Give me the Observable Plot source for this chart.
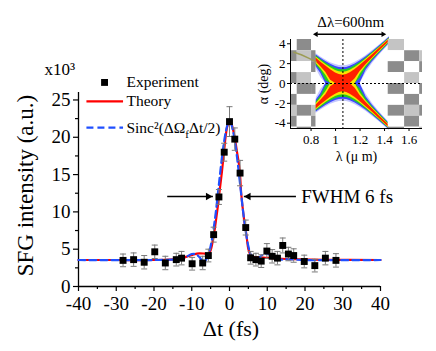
<!DOCTYPE html>
<html><head><meta charset="utf-8">
<script src="https://cdn.jsdelivr.net/npm/d3@7"></script>
<script src="https://cdn.jsdelivr.net/npm/@observablehq/plot@0.6"></script>
<style>
body{margin:0;background:#fff;}
#wrap{position:relative;width:436px;height:351px;overflow:hidden;background:#fff;}
#main,#inset{position:absolute;top:0;}
#main{left:0;}
#inset{left:250px;}
svg{overflow:visible;}
svg text{font-family:'Liberation Serif','Times New Roman',serif !important;}
</style></head><body><div id="wrap"><div id="main"></div><div id="inset"></div></div>
<script>
// ---------- main chart data ----------
const expT   = [-28.2,-25.4,-22.6,-19.8,-17.0,-14.1,-12.7,-9.9,-7.1,-5.6,-4.2,-2.8,-1.4,0,1.4,2.8,4.3,5.6,7.0,8.4,9.9,11.3,12.7,14.1,15.6,17.0,19.8,22.6,25.4,28.2];
const expV   = [3.5,3.6,3.25,4.65,3.15,3.6,3.8,3.05,3.15,4.15,6.95,12.0,18.0,22.1,19.75,15.2,7.9,3.85,3.6,3.4,4.75,4.05,3.8,5.5,4.35,4.15,3.35,2.8,3.8,3.5];
const expErr = [0.85,0.9,0.9,0.9,0.9,0.85,0.9,0.85,0.9,0.85,1.0,1.0,1.2,2.0,1.5,1.7,1.0,0.85,0.85,0.85,1.0,0.9,0.9,1.0,0.9,0.9,0.85,0.85,0.9,0.9];

const theoryT = [-40,-30,-20,-16,-13,-11,-9.5,-8,-6.5,-5.6,-5.2,-4.8,-4.4,-4.0,-3.6,-3.2,-2.8,-2.5,-2.0,-1.4,-1.0,-0.5,0,0.5,1.0,1.5,2.0,2.5,2.8,3.1,3.5,4.0,4.3,4.7,5.0,5.5,6.0,7.0,10,14,18,25,40];
const theoryV = [3.55,3.55,3.55,3.6,3.75,4.05,4.3,4.45,4.4,4.35,4.6,5.2,6.2,7.4,8.8,10.3,12.0,13.3,15.4,18.3,20.2,21.6,22.0,21.8,20.9,19.6,18.0,16.4,14.9,12.5,10.5,8.5,7.6,6.0,5.0,4.3,4.0,3.95,3.85,3.72,3.65,3.58,3.55];

const sincT = [-40,-20,-15,-13,-12,-11,-10,-9,-8,-7,-6.5,-6,-5.5,-5,-4.5,-4,-3.5,-3,-2.5,-2,-1.5,-1,-0.5,0,0.5,1,1.5,2,2.5,3,3.5,4,4.5,5,5.5,6,6.5,7,8,9,10,11,12,13,15,20,40];
const sincV = [3.55,3.55,3.6,3.6,3.8,4.1,4.35,4.35,3.95,3.35,3.4,3.75,4.4,5.4,6.75,8.5,10.5,12.8,15.1,17.3,19.2,20.7,21.7,22.1,21.7,20.7,19.2,17.3,15.1,12.8,10.5,8.5,6.75,5.4,4.4,3.8,3.55,3.55,3.95,4.3,4.4,4.15,3.8,3.6,3.65,3.55,3.55];

const xTicks = [-40,-30,-20,-10,0,10,20,30,40];
const xMinorTicks = [-35,-25,-15,-5,5,15,25,35];
const yTicks = [0,5,10,15,20,25];
const yMinorTicks = [2.5,7.5,12.5,17.5,22.5];

const legendLabels = ["Experiment","Theory","Sinc²(ΔΩfΔt/2)"];
const yUnitLabel = "x10³";
const yTitle = "SFG intensity (a.u.)";
const xTitle = "Δt (fs)";
const fwhmLabel = "FWHM 6 fs";

// ---------- inset data (edges of colour bands, deg) ----------
const insetLam    = [0.84,0.88,0.92,0.96,1.00,1.03,1.06,1.09,1.12,1.16,1.20,1.25,1.30,1.35,1.40,1.44];
const haloOuter   = [3.01,2.67,2.36,2.10,1.91,1.82,1.79,1.82,1.92,2.13,2.41,2.82,3.29,3.78,4.30,4.72];
const haloInner   = [1.50,0.57,0,0,0,0,0,0,0,0,0,1.08,2.00,2.74,3.42,3.94];
const blueOuter   = [2.89,2.53,2.21,1.93,1.71,1.62,1.58,1.62,1.73,1.96,2.26,2.70,3.18,3.69,4.22,4.65];
const blueInner   = [1.72,1.01,0,0,0,0,0,0,0,0,0,1.37,2.17,2.87,3.52,4.03];
const greenOuter  = [2.79,2.41,2.07,1.76,1.53,1.42,1.38,1.42,1.54,1.80,2.12,2.58,3.09,3.61,4.15,4.58];
const greenInner  = [1.89,1.27,0.27,0,0,0,0,0,0,0,0.54,1.57,2.31,2.97,3.60,4.10];
const yellowOuter = [2.68,2.29,1.92,1.58,1.32,1.19,1.14,1.19,1.33,1.62,1.97,2.47,2.99,3.52,4.07,4.52];
const yellowInner = [2.04,1.49,0.82,0,0,0,0,0,0,0,0.94,1.75,2.43,3.07,3.69,4.17];
const redOuter    = [2.56,2.15,1.75,1.38,1.07,0.90,0.84,0.91,1.08,1.42,1.81,2.34,2.88,3.44,4.00,4.45];
const redInner    = [2.18,1.68,1.13,0.33,0,0,0,0,0,0.47,1.22,1.92,2.55,3.17,3.77,4.24];

const faintLam = [0.66,0.72,0.78,0.84];
const faintAlpha = [3.15,2.9,2.55,2.2];

const checkColsLeft  = [[0.632,0.687],[0.687,0.804],[0.804,0.84]];
const checkColsRight = [[1.43,1.564],[1.564,1.687],[1.687,1.71]];
const checkRows = [[3.3,4.43],[2.2,3.3],[1.1,2.2],[0,1.1],[-1.1,0],[-2.2,-1.1],[-3.3,-2.2],[-4.4,-3.3],[-4.53,-4.4]];
// g = dark gray, w = white, d = light dotted gray (rows top to bottom, cols left to right)
const patternLeft  = ["wgw","gdg","wwg","gdw","wgg","gww","dgd","gwg","wgw"];
const patternRight = ["dww","wgd","gwg","wdw","gwg","wgw","gdg","wgw","gwd"];

const lambda0 = 1.06;
const lamTicks = [0.8,1,1.2,1.4,1.6];
const alphaTicks = [-4,-2,0,2,4];
const arrowLam = [0.81,1.419];
const insetXTitle = "λ (μ m)";
const insetYTitle = "α (deg)";
const insetTopLabel = "Δλ=600nm";

// ---------- build ----------
const FONT = "'Liberation Serif','Times New Roman',serif";
const expData = expT.map((t,i)=>({t, v: expV[i], e: expErr[i]}));
const theoryData = theoryT.map((t,i)=>({t, v: theoryV[i]}));
const sincData = sincT.map((t,i)=>({t, v: sincV[i]}));
const capSymbol = {draw(ctx, size){ const w = Math.sqrt(size)/2; ctx.moveTo(-w,0); ctx.lineTo(w,0); }};
const T = {fontFamily: FONT};

const main = Plot.plot({
  width: 436, height: 351,
  marginLeft: 78, marginRight: 56, marginTop: 92, marginBottom: 65,
  x: {domain: [-40, 40]},
  y: {domain: [0, 26]},
  style: {fontFamily: FONT, fontSize: "19px", background: "transparent", color: "black", overflow: "visible"},
  marks: [
    Plot.axisX({...T, fontSize: 19, ticks: xTicks, tickSize: 5, tickPadding: 5, tickFormat: d => String(d), label: null, strokeWidth: 1.2}),
    Plot.axisX({ticks: xMinorTicks, tickSize: 3, tickFormat: () => "", label: null, strokeWidth: 1.2}),
    Plot.axisY({...T, fontSize: 19, ticks: yTicks, tickSize: 5, tickPadding: 3, tickFormat: d => String(d), label: null, strokeWidth: 1.2}),
    Plot.axisY({ticks: yMinorTicks, tickSize: 3, tickFormat: () => "", label: null, strokeWidth: 1.2}),
    Plot.ruleY([0], {stroke: "black", strokeWidth: 1.3}),
    Plot.ruleX([-40], {stroke: "black", strokeWidth: 1.3}),
    Plot.line(theoryData, {x: "t", y: "v", stroke: "#ff0000", strokeWidth: 2.2, curve: "catmull-rom"}),
    Plot.line(sincData, {x: "t", y: "v", stroke: "#1f4fff", strokeWidth: 2.2, strokeDasharray: "7,4", curve: "catmull-rom"}),
    Plot.ruleX(expData, {x: "t", y1: d => d.v - d.e, y2: d => d.v + d.e, stroke: "#7a7a7a", strokeWidth: 1}),
    Plot.dot(expData, {x: "t", y: d => d.v + d.e, symbol: capSymbol, r: 3.4, stroke: "#7a7a7a", fill: "none", strokeWidth: 1}),
    Plot.dot(expData, {x: "t", y: d => d.v - d.e, symbol: capSymbol, r: 3.4, stroke: "#7a7a7a", fill: "none", strokeWidth: 1}),
    Plot.dot(expData, {x: "t", y: "v", symbol: "square", r: 3.9, fill: "black", stroke: "none"}),
    // FWHM arrows
    Plot.link([0], {x1: -16.5, x2: -4.4, y1: 12.05, y2: 12.05, stroke: "black", strokeWidth: 1.5}),
    Plot.dot([0], {x: -4.2, y: 12.05, symbol: "triangle2", rotate: 90, r: 3.6, dx: -5.5, fill: "black"}),
    Plot.link([0], {x1: 17.6, x2: 3.8, y1: 12.05, y2: 12.05, stroke: "black", strokeWidth: 1.5}),
    Plot.dot([0], {x: 3.55, y: 12.05, symbol: "triangle2", rotate: -90, r: 3.6, dx: 5.5, fill: "black"}),
    Plot.text([fwhmLabel], {...T, x: 19.0, y: 12.05, text: d => d, textAnchor: "start", lineAnchor: "middle", fontSize: 19}),
    // legend
    Plot.dot([0], {x: -33.1, y: 27.35, symbol: "square", r: 3.9, fill: "black"}),
    Plot.link([0], {x1: -37.9, x2: -28.2, y1: 24.8, y2: 24.8, stroke: "#ff0000", strokeWidth: 2.2}),
    Plot.link([0], {x1: -37.9, x2: -28.2, y1: 21.3, y2: 21.3, stroke: "#1f4fff", strokeWidth: 2.2, strokeDasharray: "7,4"}),
    Plot.text([legendLabels[0]], {...T, x: -27.3, y: 27.35, text: d => d, textAnchor: "start", lineAnchor: "middle", fontSize: 15.5}),
    Plot.text([legendLabels[1]], {...T, x: -27.3, y: 24.8, text: d => d, textAnchor: "start", lineAnchor: "middle", fontSize: 15.5}),
    Plot.text([legendLabels[2]], {...T, x: -27.3, y: 21.3, text: d => d, textAnchor: "start", lineAnchor: "middle", fontSize: 15.5}),
    // titles
    Plot.text([yUnitLabel], {...T, x: -49, y: 29.05, text: d => d, textAnchor: "start", lineAnchor: "middle", fontSize: 17}),
    Plot.text([yTitle], {...T, frameAnchor: "left", rotate: -90, dx: -53, dy: -4, text: d => d, textAnchor: "middle", lineAnchor: "middle", fontSize: 23}),
    Plot.text([xTitle], {...T, frameAnchor: "bottom", dy: 42, dx: 1.5, text: d => d, textAnchor: "middle", lineAnchor: "middle", fontSize: 22})
  ]
});
document.getElementById("main").appendChild(main);

// subscript f in legend
main.querySelectorAll("text").forEach(el => {
  if (el.textContent === legendLabels[2]) {
    el.textContent = "";
    const ns = "http://www.w3.org/2000/svg";
    const a = document.createElementNS(ns, "tspan"); a.textContent = "Sinc²(ΔΩ";
    const b = document.createElementNS(ns, "tspan"); b.textContent = "f"; b.setAttribute("dy", "5"); b.setAttribute("font-size", "11");
    const c = document.createElementNS(ns, "tspan"); c.textContent = "Δt/2)"; c.setAttribute("dy", "-5");
    el.append(a, b, c);
  }
});

// inset
function band(outer, inner, sign) {
  return insetLam.map((lam,i) => sign > 0 ? {lam, lo: inner[i], hi: outer[i]} : {lam, lo: -outer[i], hi: -inner[i]});
}
const bands = [
  [haloOuter, haloInner, "#c3c6ff"],
  [blueOuter, blueInner, "#3c46ff"],
  [greenOuter, greenInner, "#22cc22"],
  [yellowOuter, yellowInner, "#f8e400"],
  [redOuter, redInner, "#ff2000"]
];
const bandMarks = [];
for (const [o, inn, col] of bands) {
  for (const s of [1, -1]) bandMarks.push(Plot.areaY(band(o, inn, s), {x: "lam", y1: "lo", y2: "hi", fill: col, curve: "linear"}));
}
const fillOf = {g: "#8c8c8c", w: "#ffffff", d: "#c4c4c4"};
const cells = [];
for (const [cols, pat] of [[checkColsLeft, patternLeft], [checkColsRight, patternRight]]) {
  checkRows.forEach((r, i) => cols.forEach((c, j) => cells.push({x1: c[0], x2: c[1], y1: r[0], y2: r[1], fill: fillOf[pat[i][j]]})));
}
const faint = faintLam.map((l,i)=>({lam: l, a: faintAlpha[i]}));

const inset = Plot.plot({
  width: 186, height: 170,
  marginLeft: 40, marginRight: 14, marginTop: 39, marginBottom: 42,
  x: {domain: [0.632, 1.71]},
  y: {domain: [-4.53, 4.43]},
  color: {type: "identity"},
  style: {fontFamily: FONT, fontSize: "13px", background: "transparent", color: "black", overflow: "visible"},
  marks: [
    ...bandMarks,
    Plot.rect(cells, {x1: "x1", x2: "x2", y1: "y1", y2: "y2", fill: "fill"}),
    Plot.line(faint, {x: "lam", y: "a", stroke: "#9c9c55", strokeWidth: 1.5}),
    Plot.ruleX([lambda0], {stroke: "black", strokeDasharray: "2,2", strokeWidth: 1}),
    Plot.ruleY([0], {stroke: "black", strokeDasharray: "2,2", strokeWidth: 1}),
    Plot.axisX({...T, fontSize: 13, ticks: lamTicks, tickSize: 3, tickPadding: 3, tickFormat: d => String(d), label: null}),
    Plot.axisY({...T, fontSize: 13, ticks: alphaTicks, tickSize: 3, tickPadding: 2, tickFormat: d => String(d), label: null}),
    Plot.ruleX([0.632], {stroke: "black", strokeWidth: 1}),
    Plot.ruleY([-4.53], {stroke: "black", strokeWidth: 1}),
    Plot.link([0], {x1: arrowLam[0] + 0.04, x2: arrowLam[1] - 0.04, y1: 4.96, y2: 4.96, stroke: "black", strokeWidth: 1.3}),
    Plot.dot([0], {x: arrowLam[0], y: 4.96, symbol: "triangle2", rotate: -90, r: 2.6, dx: 3.8, fill: "black"}),
    Plot.dot([0], {x: arrowLam[1], y: 4.96, symbol: "triangle2", rotate: 90, r: 2.6, dx: -3.8, fill: "black"}),
    Plot.text([insetTopLabel], {...T, x: 1.124, frameAnchor: "top", dy: -17, text: d => d, textAnchor: "middle", lineAnchor: "middle", fontSize: 15}),
    Plot.text([insetXTitle], {...T, frameAnchor: "bottom", dy: 28, text: d => d, textAnchor: "middle", lineAnchor: "middle", fontSize: 14}),
    Plot.text([insetYTitle], {...T, frameAnchor: "left", rotate: -90, dx: -27, text: d => d, textAnchor: "middle", lineAnchor: "middle", fontSize: 14})
  ]
});
document.getElementById("inset").appendChild(inset);
</script></body></html>
